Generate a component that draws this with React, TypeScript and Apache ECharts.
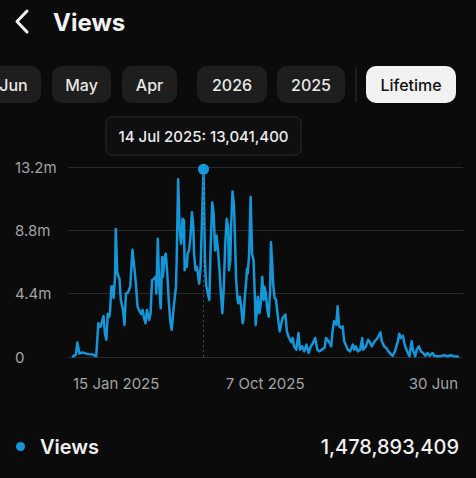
import { useEffect, useRef } from "react";
import * as echarts from "echarts";

// ---- data ----
const START_DATE = "2025-01-15";
// [day offset from START_DATE, views in millions]
const dailyViews: [number, number][] = [
  [0, 0.05], [4, 0.16], [6, 1.0], [9, 0.23], [13, 0.32], [18, 0.23], [22, 0.2], [27, 0.18], [32, 0.05],
  [35, 2.35], [38, 2.1], [40, 2.46], [42, 2.85], [44, 1.65], [46, 1.2], [48, 3.0], [50, 2.8], [51, 3.1],
  [53, 4.9], [55, 4.9], [56, 4.1], [58, 5.6], [59, 8.9], [61, 5.9], [62, 5.7], [64, 5.45], [66, 3.95],
  [69, 3.27], [71, 2.23], [73, 4.4], [76, 4.5], [79, 4.9], [80, 5.8], [82, 7.45], [85, 6.0], [87, 4.9],
  [89, 3.5], [91, 3.27], [94, 3.0], [96, 3.27], [98, 2.7], [100, 2.35], [102, 3.27], [105, 2.58], [107, 3.04],
  [109, 5.34], [112, 5.45], [114, 5.57], [115, 4.42], [117, 8.21], [119, 4.88], [121, 3.38], [123, 6.95],
  [124, 5.57], [126, 6.83], [128, 7.18], [130, 5.8], [132, 3.96], [134, 2.58], [136, 1.89], [137, 2.35],
  [139, 3.5], [142, 4.88], [143, 6.72], [145, 12.35], [147, 9.0], [149, 7.87], [150, 8.33], [151, 9.6],
  [153, 9.48], [154, 6.03], [155, 6.72], [157, 6.26], [158, 7.18], [160, 7.4], [162, 8.33], [164, 10.05],
  [166, 9.0], [167, 7.18], [169, 6.03], [171, 6.26], [174, 5.1], [176, 6.26], [180, 13.0414], [182, 6.72],
  [183, 5.57], [184, 4.88], [186, 4.42], [188, 3.96], [190, 7.87], [192, 10.74], [194, 9.94], [196, 7.4],
  [198, 8.44], [200, 7.4], [202, 6.03], [204, 4.42], [206, 3.04], [208, 4.88], [210, 7.87], [212, 9.6],
  [214, 9.0], [215, 6.03], [217, 6.72], [218, 9.0], [220, 11.5], [222, 10.6], [224, 7.18], [225, 5.34],
  [227, 3.96], [228, 3.73], [230, 4.19], [232, 3.5], [234, 2.35], [235, 2.58], [237, 4.19], [239, 5.34],
  [240, 6.14], [241, 5.8], [243, 7.18], [245, 11.13], [246, 9.0], [247, 7.18], [249, 6.72], [251, 3.96],
  [252, 2.23], [254, 3.5], [255, 4.19], [257, 3.04], [259, 3.73], [261, 5.57], [263, 3.96], [264, 4.88],
  [266, 4.42], [268, 3.27], [270, 2.8], [272, 4.88], [273, 7.98], [275, 6.26], [276, 5.1], [278, 4.1],
  [280, 3.99], [282, 3.06], [285, 1.78], [289, 2.71], [293, 2.94], [295, 1.78], [297, 1.44], [301, 1.02],
  [303, 1.32], [305, 0.74], [308, 0.51], [311, 1.67], [313, 0.51], [316, 0.74], [319, 0.39], [322, 0.86],
  [325, 0.28], [328, 0.74], [331, 0.97], [334, 1.32], [337, 0.51], [340, 0.39], [343, 0.51], [347, 0.63],
  [349, 1.32], [351, 1.2], [354, 0.97], [356, 0.74], [358, 1.78], [360, 2.48], [363, 2.25], [365, 3.52],
  [367, 2.13], [370, 2.02], [372, 2.13], [374, 1.09], [377, 0.74], [379, 0.51], [382, 0.39], [386, 0.86],
  [388, 0.51], [390, 0.74], [393, 0.39], [396, 0.51], [399, 1.32], [400, 0.51], [404, 0.74], [407, 1.2],
  [410, 0.97], [412, 0.74], [416, 1.09], [418, 1.2], [420, 1.32], [424, 1.71], [426, 1.09], [429, 0.74],
  [432, 0.63], [435, 0.39], [439, 0.16], [441, 0.09], [444, 0.39], [448, 1.09], [450, 1.62], [452, 1.32],
  [455, 1.48], [457, 0.97], [459, 0.63], [462, 0.28], [464, 0.05], [467, 1.09], [469, 0.46], [472, 0.05],
  [474, 0.51], [477, 0.74], [480, 0.39], [483, 0.28], [486, 0.09], [489, 0.28], [492, 0.09], [496, 0.28],
  [498, 0.09], [503, 0.05], [508, 0.07], [512, 0.12], [517, 0.05], [521, 0.12], [526, 0.05], [531, 0.03],
];
const peakDay = 180;
const peakViews = 13041400;
const totalViews = 1478893409;
const yMax = 13.2;
const yInterval = 4.4;
const xTickDays = [0, 265, 531];
const xTickLabels = ["15 Jan 2025", "7 Oct 2025", "30 Jun"];
const rangeButtons = ["Jun", "May", "Apr", "2026", "2025", "Lifetime"];
const selectedRange = "Lifetime";
const monthNames = ["Jan", "Feb", "Mar", "Apr", "May", "Jun", "Jul", "Aug", "Sep", "Oct", "Nov", "Dec"];

// ---- style ----
const BG = "#0b0b0b";
const BLUE = "#1596d8";
const FONT = "Inter, 'Noto Sans', sans-serif";

function dayToLabel(day: number) {
  const d = new Date(START_DATE + "T00:00:00Z");
  d.setUTCDate(d.getUTCDate() + day);
  return `${d.getUTCDate()} ${monthNames[d.getUTCMonth()]} ${d.getUTCFullYear()}`;
}

export default function App() {
  const ref = useRef<HTMLDivElement>(null);
  useEffect(() => {
    document.body.style.margin = "0";
    document.body.style.background = BG;
    const chart = echarts.init(ref.current!, null, { renderer: "svg" });
    const peakPoint = dailyViews.find((p) => p[0] === peakDay)!;

    // button layout (UI chrome)
    const buttonBoxes: [number, number][] = [
      [-14, 41], [52, 111], [122, 177], [197, 267], [277, 345], [366, 456],
    ];
    const btnY = 66, btnH = 37;
    const buttonGraphics: any[] = [];
    rangeButtons.forEach((label, i) => {
      const [x0, x1] = buttonBoxes[i];
      const sel = label === selectedRange;
      buttonGraphics.push({
        type: "rect",
        shape: { x: x0, y: btnY, width: x1 - x0, height: btnH, r: 10 },
        style: { fill: sel ? "#f2f2f2" : "#1e1e1e" },
      });
      buttonGraphics.push({
        type: "text",
        x: (x0 + x1) / 2,
        y: btnY + btnH / 2,
        style: {
          text: label,
          fill: sel ? "#111111" : "#e8e8e8",
          font: `500 16px ${FONT}`,
          align: "center",
          verticalAlign: "middle",
        },
      });
    });

    chart.setOption({
      animation: false,
      backgroundColor: BG,
      textStyle: { fontFamily: FONT },
      grid: [
        { left: 68, right: 13, top: 167, bottom: 121 },
        { left: 73, right: 18, top: 167, bottom: 121 },
      ],
      xAxis: [
        { gridIndex: 0, type: "value", min: 0, max: 1, show: false },
        {
          gridIndex: 1,
          type: "value",
          min: xTickDays[0],
          max: xTickDays[xTickDays.length - 1],
          axisLine: { show: false },
          axisTick: { show: false },
          splitLine: { show: false },
          axisLabel: {
            customValues: xTickDays,
            formatter: (v: number) => xTickLabels[xTickDays.indexOf(Math.round(v))] ?? "",
            color: "#a3a3a3",
            fontSize: 15,
            margin: 19,
            alignMinLabel: "left",
            alignMaxLabel: "right",
          },
        },
      ],
      yAxis: [
        {
          gridIndex: 0,
          type: "value",
          min: 0,
          max: yMax,
          interval: yInterval,
          axisLine: { show: false },
          axisTick: { show: false },
          splitLine: { lineStyle: { color: "#2a2a2a", width: 1 } },
          axisLabel: {
            align: "left",
            margin: 53,
            color: "#a3a3a3",
            fontSize: 15,
            formatter: (v: number) => (v === 0 ? "0" : `${v.toFixed(1)}m`),
          },
        },
        { gridIndex: 1, type: "value", min: 0, max: yMax, show: false },
      ],
      series: [
        {
          type: "line",
          name: "Views",
          xAxisIndex: 1,
          yAxisIndex: 1,
          data: dailyViews,
          showSymbol: false,
          lineStyle: { color: BLUE, width: 2.5, join: "round", cap: "round" },
          itemStyle: { color: BLUE },
          markLine: {
            silent: true,
            symbol: ["none", "none"],
            label: { show: false },
            lineStyle: { color: "#4a4a4a", type: [2, 3], width: 1 },
            data: [{ xAxis: peakDay }],
          },
          markPoint: {
            symbol: "circle",
            symbolSize: 11,
            itemStyle: { color: BLUE },
            label: { show: false },
            data: [{ coord: [peakPoint[0], peakPoint[1]] }],
          },
        },
      ],
    });

    const px = chart.convertToPixel({ xAxisIndex: 1, yAxisIndex: 1 }, [peakPoint[0], peakPoint[1]]) as number[];
    const tipText = `${dayToLabel(peakDay)}: ${peakViews.toLocaleString("en-US")}`;
    const tipW = 195, tipH = 38;

    chart.setOption({
      graphic: [
        // back chevron
        {
          type: "polyline",
          shape: { points: [[27, 11], [17, 21.5], [27, 32]] },
          style: { stroke: "#f2f2f2", lineWidth: 3, fill: null, lineCap: "round", lineJoin: "round" },
        },
        {
          type: "text",
          x: 53,
          y: 22,
          style: { text: "Views", fill: "#f2f2f2", font: `700 24px ${FONT}`, verticalAlign: "middle" },
        },
        ...buttonGraphics,
        {
          type: "line",
          shape: { x1: 356, y1: 67, x2: 356, y2: 102 },
          style: { stroke: "#333333", lineWidth: 1 },
        },
        // tooltip
        {
          type: "rect",
          shape: { x: px[0] - tipW / 2, y: 117, width: tipW, height: tipH, r: 6 },
          style: { fill: "#0f0f0f", stroke: "#2c2c2c", lineWidth: 1 },
        },
        {
          type: "text",
          x: px[0],
          y: 117 + tipH / 2,
          style: {
            text: tipText,
            fill: "#ececec",
            font: `500 15px ${FONT}`,
            align: "center",
            verticalAlign: "middle",
          },
        },
        // legend
        { type: "circle", shape: { cx: 20.5, cy: 446.5, r: 4.5 }, style: { fill: BLUE } },
        {
          type: "text",
          x: 40,
          y: 447,
          style: { text: "Views", fill: "#efefef", font: `600 20px ${FONT}`, verticalAlign: "middle" },
        },
        {
          type: "text",
          x: 459,
          y: 447,
          style: {
            text: totalViews.toLocaleString("en-US"),
            fill: "#efefef",
            font: `500 20px ${FONT}`,
            align: "right",
            verticalAlign: "middle",
          },
        },
      ],
    });

    return () => chart.dispose();
  }, []);
  return (
    <div
      ref={ref}
      style={{ position: "absolute", left: 0, top: 0, width: 476, height: 478, background: BG }}
    />
  );
}
